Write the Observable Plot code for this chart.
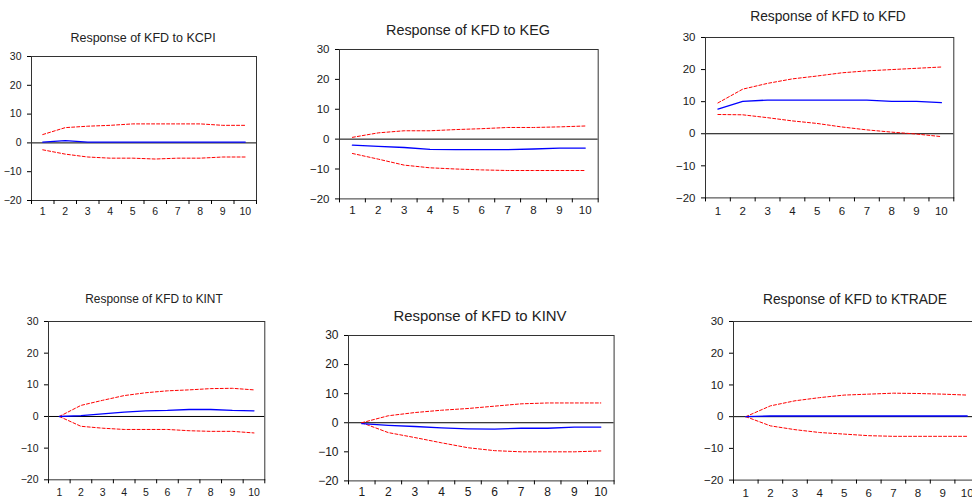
<!DOCTYPE html>
<html>
<head>
<meta charset="utf-8">
<script src="https://cdn.jsdelivr.net/npm/d3@7"></script>
<script src="https://cdn.jsdelivr.net/npm/@observablehq/plot@0.6"></script>
<style>
  html, body { margin: 0; padding: 0; background: #fff; width: 972px; height: 501px; overflow: hidden; position: relative; font-family: "Liberation Sans", Arial, sans-serif; }
  .panel { position: absolute; }
  .title { position: absolute; transform: translate(-50%, -50%); white-space: nowrap; line-height: 1; color: #222; font-family: "Liberation Sans", Arial, sans-serif; }
</style>
</head>
<body>
<script>
// ---- data ----
const periods = [1, 2, 3, 4, 5, 6, 7, 8, 9, 10];
const yTicks = [-20, -10, 0, 10, 20, 30];
const titles = ["Response of KFD to KCPI", "Response of KFD to KEG", "Response of KFD to KFD",
                "Response of KFD to KINT", "Response of KFD to KINV", "Response of KFD to KTRADE"];

const kcpiResp  = [0.3, 0.8, 0.3, 0.3, 0.3, 0.3, 0.3, 0.3, 0.3, 0.3];
const kcpiUpper = [2.9, 5.3, 5.8, 6.1, 6.6, 6.6, 6.6, 6.6, 6.1, 6.1];
const kcpiLower = [-2.4, -3.9, -4.9, -5.3, -5.3, -5.6, -5.3, -5.3, -4.9, -4.9];

const kegResp  = [-2.0, -2.4, -2.8, -3.4, -3.5, -3.5, -3.5, -3.3, -3.0, -3.0];
const kegUpper = [0.6, 2.1, 2.8, 2.8, 3.2, 3.5, 3.9, 3.9, 4.1, 4.4];
const kegLower = [-4.8, -6.7, -8.7, -9.6, -10.0, -10.3, -10.5, -10.5, -10.5, -10.5];

const kfdResp  = [7.7, 10.1, 10.5, 10.5, 10.5, 10.5, 10.5, 10.1, 10.1, 9.7];
const kfdUpper = [9.6, 13.9, 15.7, 17.1, 18.0, 19.0, 19.6, 20.0, 20.4, 20.8];
const kfdLower = [6.0, 5.9, 5.0, 4.0, 3.2, 2.1, 1.2, 0.5, -0.1, -0.9];

const kintResp  = [0, 0.3, 0.8, 1.4, 1.8, 1.9, 2.2, 2.2, 1.9, 1.8];
const kintUpper = [0, 3.5, 5.1, 6.6, 7.5, 8.1, 8.4, 8.8, 8.9, 8.4];
const kintLower = [0, -3.1, -3.7, -4.1, -4.1, -4.1, -4.5, -4.7, -4.7, -5.2];

const kinvResp  = [-0.3, -0.9, -1.3, -1.8, -2.1, -2.2, -1.9, -1.9, -1.5, -1.5];
const kinvUpper = [0, 2.4, 3.5, 4.3, 4.9, 5.7, 6.5, 6.8, 6.8, 6.8];
const kinvLower = [0, -3.4, -5.1, -6.9, -8.6, -9.6, -10.0, -10.0, -10.0, -9.7];

const ktradeResp  = [0, 0.2, 0.2, 0.2, 0.2, 0.2, 0.2, 0.2, 0.2, 0.2];
const ktradeUpper = [0, 3.4, 5.0, 6.0, 6.8, 7.1, 7.4, 7.3, 7.1, 6.8];
const ktradeLower = [0, -2.9, -4.1, -5.0, -5.5, -6.0, -6.2, -6.2, -6.2, -6.2];

const series = [
  [kcpiResp, kcpiUpper, kcpiLower],
  [kegResp, kegUpper, kegLower],
  [kfdResp, kfdUpper, kfdLower],
  [kintResp, kintUpper, kintLower],
  [kinvResp, kinvUpper, kinvLower],
  [ktradeResp, ktradeUpper, ktradeLower]
];

// ---- layout (frame boxes in page pixels) ----
const layout = [
  {L: 31,    T: 56,    R: 256,   B: 200,   tx: 143, ty: 38,  tfs: 12.5, fs: 10.5, xpad: 7},
  {L: 339,   T: 49.3,  R: 597.7, B: 198.7, tx: 468, ty: 30,  tfs: 14.4, fs: 11.5, xpad: 7},
  {L: 705,   T: 37.3,  R: 953.3, B: 197.7, tx: 828, ty: 17,  tfs: 13.8, fs: 11.5, xpad: 9},
  {L: 47.7,  T: 321,   R: 264,   B: 479.3, tx: 154, ty: 300, tfs: 11.9, fs: 10.5, xpad: 9},
  {L: 347.7, T: 335.3, R: 613.3, B: 480.7, tx: 480, ty: 316, tfs: 14.9, fs: 12,   xpad: 7},
  {L: 732.7, T: 320.7, R: 978.7, B: 479.3, tx: 855, ty: 300, tfs: 13.8, fs: 11.5, xpad: 9}
];

const boundaries = d3.range(0.5, 11, 1);
const mL = 36, mR = 4, mT = 8, mB = 28;

layout.forEach((p, i) => {
  const [resp, up, lo] = series[i];
  const rows = periods.map((t, k) => ({t, resp: resp[k], up: up[k], lo: lo[k]}));
  const w = p.R - p.L, h = p.B - p.T;
  const chart = Plot.plot({
    width: w + mL + mR,
    height: h + mT + mB,
    marginLeft: mL, marginRight: mR, marginTop: mT, marginBottom: mB,
    style: {fontFamily: "'Liberation Sans', Arial, sans-serif", color: "#1a1a1a", background: "transparent", overflow: "visible"},
    x: {domain: [0.5, 10.5]},
    y: {domain: [-20, 30]},
    marks: [
      Plot.ruleY([0], {stroke: "#000", strokeWidth: 1}),
      Plot.line(rows, {x: "t", y: "up", stroke: "#ff0000", strokeWidth: 1, strokeDasharray: "3,2"}),
      Plot.line(rows, {x: "t", y: "lo", stroke: "#ff0000", strokeWidth: 1, strokeDasharray: "3,2"}),
      Plot.line(rows, {x: "t", y: "resp", stroke: "#0000ff", strokeWidth: 1.3}),
      Plot.frame({stroke: "#333", strokeWidth: 1}),
      Plot.axisY(yTicks, {tickSize: 4, tickPadding: 6, label: null, stroke: "#000", fontSize: p.fs}),
      Plot.axisX(boundaries, {tickSize: 4, text: null, label: null, stroke: "#000"}),
      Plot.axisX(periods, {tickSize: 0, tickPadding: p.xpad, label: null, fontSize: p.fs})
    ]
  });
  chart.classList.add("panel");
  chart.style.left = (p.L - mL) + "px";
  chart.style.top = (p.T - mT) + "px";
  document.body.appendChild(chart);

  const t = document.createElement("div");
  t.className = "title";
  t.textContent = titles[i];
  t.style.left = p.tx + "px";
  t.style.top = p.ty + "px";
  t.style.fontSize = p.tfs + "px";
  document.body.appendChild(t);
});
</script>
</body>
</html>
